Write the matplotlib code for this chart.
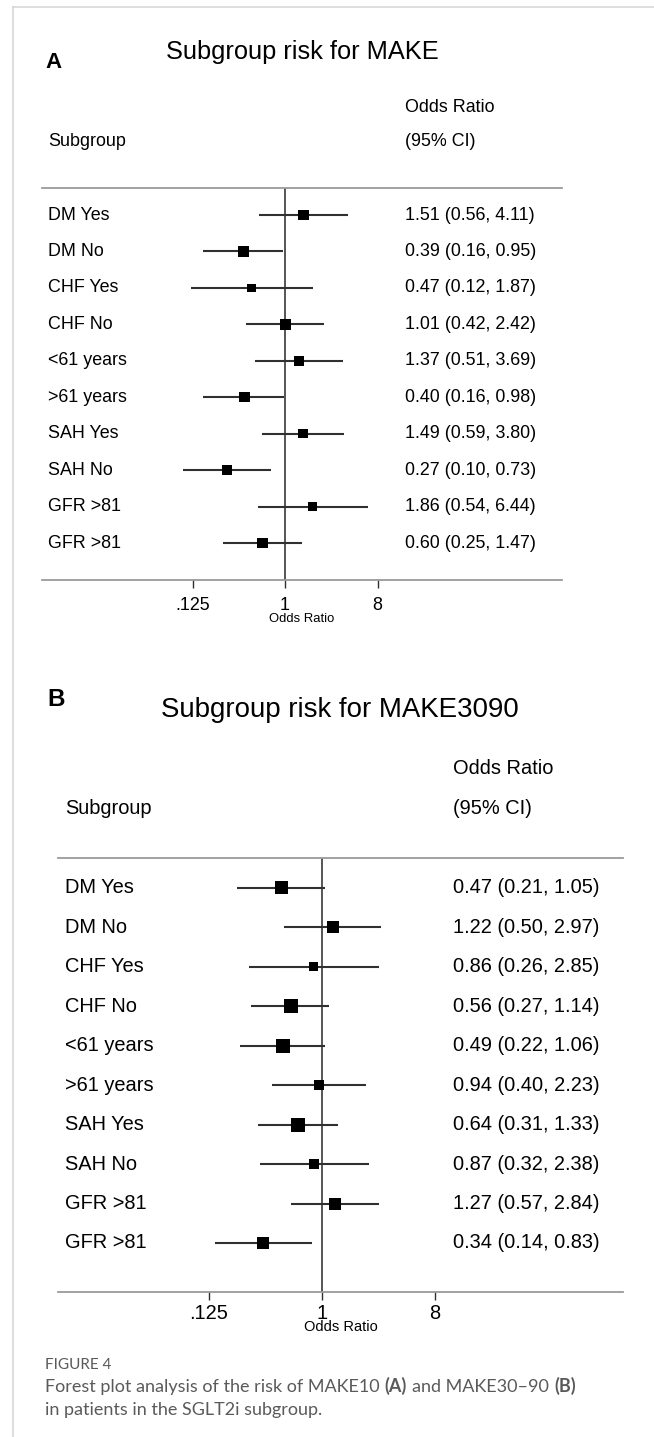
import matplotlib
matplotlib.use("Agg")
import matplotlib.pyplot as plt
import numpy as np
from matplotlib.lines import Line2D
from matplotlib.ticker import FixedLocator, NullLocator
from matplotlib.transforms import blended_transform_factory


W, H = 654, 1437
DPI = 100
FONT = "Liberation Sans"
CAPTION_FONT = "Lato"
DARK = "#303030"
GREY_LINE = "#9a9a9a"
FRAME = "#d4d4d4"
CAPTION_GREY = "#5a5a5a"

# ---- data -------------------------------------------------------------
subgroups = ["DM Yes", "DM No", "CHF Yes", "CHF No", "<61 years", ">61 years",
             "SAH Yes", "SAH No", "GFR >81", "GFR >81"]

make_or = [1.51, 0.39, 0.47, 1.01, 1.37, 0.40, 1.49, 0.27, 1.86, 0.60]
make_lo = [0.56, 0.16, 0.12, 0.42, 0.51, 0.16, 0.59, 0.10, 0.54, 0.25]
make_hi = [4.11, 0.95, 1.87, 2.42, 3.69, 0.98, 3.80, 0.73, 6.44, 1.47]
make_weight = [10.5, 11, 8.5, 10.5, 10, 10.5, 9.5, 10.5, 9, 10.5]

make3090_or = [0.47, 1.22, 0.86, 0.56, 0.49, 0.94, 0.64, 0.87, 1.27, 0.34]
make3090_lo = [0.21, 0.50, 0.26, 0.27, 0.22, 0.40, 0.31, 0.32, 0.57, 0.14]
make3090_hi = [1.05, 2.97, 2.85, 1.14, 1.06, 2.23, 1.33, 2.38, 2.84, 0.83]
make3090_weight = [13, 12, 9, 14, 14, 10, 14, 10, 12, 12]

tick_values = [0.125, 1, 8]
tick_labels = [".125", "1", "8"]

# ---- layout (pixels of the 654x1437 page) -----------------------------
GEOM_A = dict(left=42, right=562, sep_y=188, axis_y=580, row0=215, row_last=543,
              xmin=-7.88, xmax=8.98, label_x=48, est_x=405, head1_y=107, head2_y=141,
              title_xy=(302, 52), letter_xy=(45, 62), xtitle_y=619,
              body=12.9, title=18.3, letter=16.0, xtitle=9.4, pad=6.5)
GEOM_B = dict(left=58, right=623, sep_y=858, axis_y=1292, row0=888, row_last=1243,
              xmin=-7.01, xmax=7.99, label_x=65, est_x=453, head1_y=769, head2_y=809,
              title_xy=(340, 710), letter_xy=(47, 700), xtitle_y=1327,
              body=14.4, title=19.9, letter=17.5, xtitle=10.5, pad=2.5)


def px_to_fig(x, y):
    return x / W, 1 - y / H


def draw_panel(fig, page, g, ors, los, his, weights, title, letter):
    x0, y0 = px_to_fig(g["left"], g["axis_y"])
    ax = fig.add_axes([x0, y0, (g["right"] - g["left"]) / W, (g["axis_y"] - g["sep_y"]) / H])
    ax.patch.set_visible(False)
    ax.set_xscale("log", base=2)
    ax.set_xlim(2 ** g["xmin"], 2 ** g["xmax"])

    n = len(ors)
    rows = np.arange(n)
    step = (g["row_last"] - g["row0"]) / (n - 1)
    ax.set_ylim((g["axis_y"] - g["row0"]) / step, -(g["row0"] - g["sep_y"]) / step)

    ax.axvline(1, color=DARK, lw=1.15, zorder=1)
    ax.hlines(rows, los, his, color=DARK, lw=1.5, zorder=2)
    side = np.asarray(weights) * 72 / DPI
    ax.scatter(ors, rows, marker="s", s=side ** 2, color="black", linewidths=0, zorder=3)

    for name in ("left", "right"):
        ax.spines[name].set_visible(False)
    for name in ("top", "bottom"):
        ax.spines[name].set_color(GREY_LINE)
        ax.spines[name].set_linewidth(1.3)

    ax.xaxis.set_major_locator(FixedLocator(tick_values))
    ax.xaxis.set_minor_locator(NullLocator())
    ax.set_xticklabels(tick_labels, fontsize=g["body"], fontfamily=FONT)
    ax.tick_params(axis="x", direction="out", length=5.8, width=1.0, color=DARK, pad=g["pad"])
    ax.set_yticks([])

    width = g["right"] - g["left"]
    trans = blended_transform_factory(ax.transAxes, ax.transData)
    lab_x = (g["label_x"] - g["left"]) / width
    est_x = (g["est_x"] - g["left"]) / width
    for i in rows:
        ax.text(lab_x, i, subgroups[i], transform=trans, ha="left", va="center",
                fontsize=g["body"], fontfamily=FONT)
        ax.text(est_x, i, f"{ors[i]:.2f} ({los[i]:.2f}, {his[i]:.2f})", transform=trans,
                ha="left", va="center", fontsize=g["body"], fontfamily=FONT)

    kw = dict(fontsize=g["body"], fontfamily=FONT, va="center", ha="left")
    page.text(g["est_x"], g["head1_y"], "Odds Ratio", **kw)
    page.text(g["est_x"], g["head2_y"], "(95% CI)", **kw)
    page.text(g["label_x"], g["head2_y"], "Subgroup", **kw)
    page.text(*g["title_xy"], title, fontsize=g["title"], fontfamily=FONT, ha="center", va="center")
    page.text(*g["letter_xy"], letter, fontsize=g["letter"], fontfamily=FONT,
              fontweight="bold", ha="left", va="center")
    page.text((g["left"] + g["right"]) / 2, g["xtitle_y"], "Odds Ratio", fontsize=g["xtitle"],
              fontfamily=FONT, ha="center", va="center")
    return ax


def rich_line(page, x, y, pieces, size):
    first, weight = pieces[0]
    t = page.text(x, y, first, fontsize=size, fontweight=weight, fontfamily=CAPTION_FONT,
                  color=CAPTION_GREY, ha="left", va="center")
    for text, weight in pieces[1:]:
        t = page.annotate(text, xy=(1, 0), xycoords=t, xytext=(0.28 * size, 0),
                          textcoords="offset points", fontsize=size, fontweight=weight,
                          fontfamily=CAPTION_FONT, color=CAPTION_GREY, ha="left", va="bottom")


def main():
    fig = plt.figure(figsize=(W / DPI, H / DPI), dpi=DPI)
    page = fig.add_axes([0, 0, 1, 1])
    page.set_xlim(0, W)
    page.set_ylim(H, 0)
    page.set_axis_off()

    page.add_line(Line2D([13, 13], [7, H], color=FRAME, lw=1.1))
    page.add_line(Line2D([13, W], [7, 7], color=FRAME, lw=1.1))

    draw_panel(fig, page, GEOM_A, make_or, make_lo, make_hi, make_weight,
               "Subgroup risk for MAKE", "A")
    draw_panel(fig, page, GEOM_B, make3090_or, make3090_lo, make3090_hi, make3090_weight,
               "Subgroup risk for MAKE3090", "B")

    page.text(45, 1365, "FIGURE 4", fontsize=11, fontfamily=CAPTION_FONT,
              color=CAPTION_GREY, ha="left", va="center")
    rich_line(page, 45, 1387, [("Forest plot analysis of the risk of MAKE10", "normal"),
                               ("(A)", "bold"), ("and MAKE30\u201390", "normal"),
                               ("(B)", "bold")], 13)
    rich_line(page, 45, 1410, [("in patients in the SGLT2i subgroup.", "normal")], 13)

    fig.savefig("out.png", dpi=DPI, facecolor="white")
    plt.close(fig)


if __name__ == "__main__":
    main()
